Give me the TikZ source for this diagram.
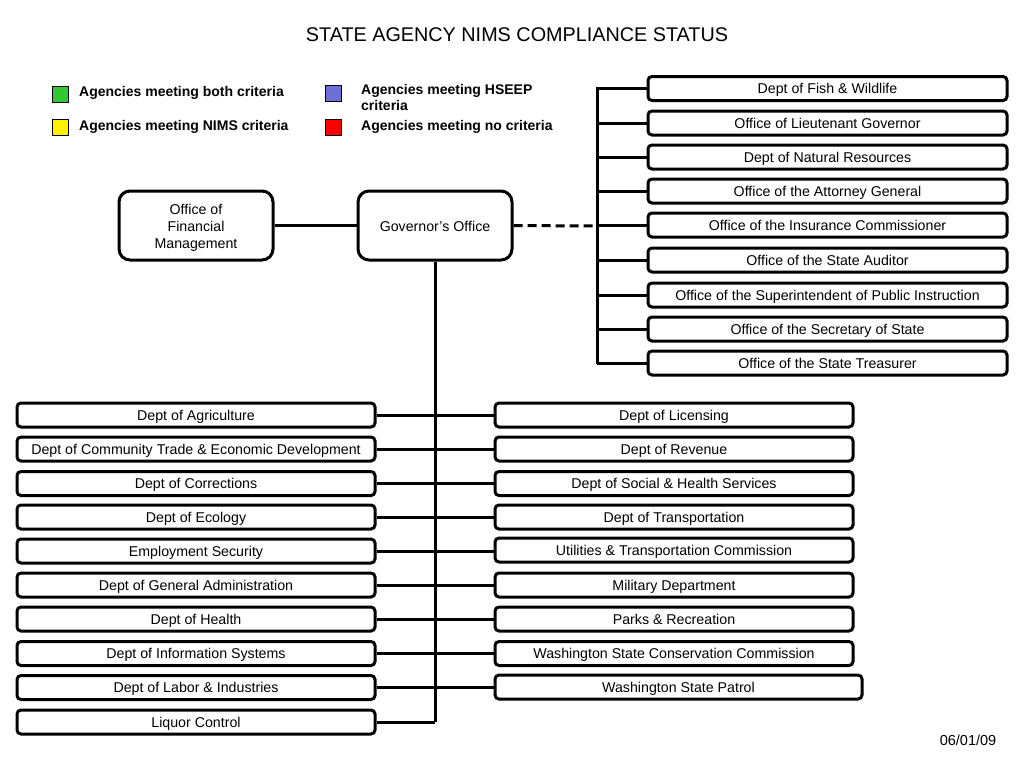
\documentclass[tikz,border=0pt]{standalone}
\usepackage{fontspec}
\setmainfont{Liberation Sans}
\begin{document}
\begin{tikzpicture}[x=1pt,y=-1pt,
  box/.style={draw,line width=3pt,rounded corners=4pt,fill=white,inner sep=0pt,font=\fontsize{14.2}{15}\selectfont,text height=10pt,text depth=0pt},
  rbox/.style={box,minimum width=359pt,minimum height=24pt},
  bigbox/.style={draw,line width=3pt,rounded corners=11pt,fill=white,inner sep=0pt,minimum width=154pt,minimum height=69pt,align=center,font=\fontsize{14.2}{17}\selectfont},
  conn/.style={line width=3pt},
  leg/.style={draw,line width=0.8pt,minimum size=16pt,inner sep=0pt},
  legtxt/.style={anchor=west,inner sep=0pt,font=\bfseries\fontsize{14}{16}\selectfont,align=left}]
\useasboundingbox (0,0) rectangle (1024,768);
\node[inner sep=0pt,font=\fontsize{19.8}{22}\selectfont] (title) at (517,35) {STATE AGENCY NIMS COMPLIANCE STATUS};
% legend
\node[leg,fill={rgb,255:red,50;green,200;blue,50}] (lg) at (60,94.5) {};
\node[leg,fill=yellow] (ly) at (60,127.5) {};
\node[leg,fill={rgb,255:red,110;green,110;blue,215}] (lb) at (333,93.5) {};
\node[leg,fill=red] (lr) at (333,127.5) {};
\node[legtxt] (tg) at (79,92.5) {Agencies meeting both criteria};
\node[legtxt] (ty) at (79,126.5) {Agencies meeting NIMS criteria};
\node[legtxt,anchor=north west] (tb) at (361,84.5) {Agencies meeting HSEEP\\criteria};
\node[legtxt] (tr) at (361,126.5) {Agencies meeting no criteria};
% top boxes
\node[bigbox] (ofm) at (196,225.5) {};
\node[inner sep=0pt,align=center,font=\fontsize{14.2}{17}\selectfont] (ofmt) at (196,227.5) {Office of\\Financial\\Management};
\node[bigbox] (gov) at (435,225.5) {};
\node[inner sep=0pt,font=\fontsize{14.2}{17}\selectfont] (govt) at (435,226.5) {Governor's Office};
% right column
\foreach \n/\y/\t in {r1/88.5/Dept of Fish \& Wildlife, r2/123/Office of Lieutenant Governor, r3/157/Dept of Natural Resources, r4/191/Office of the Attorney General, r5/225/Office of the Insurance Commissioner, r6/260/Office of the State Auditor, r7/295/Office of the Superintendent of Public Instruction, r8/329/Office of the Secretary of State, r9/363/Office of the State Treasurer}
  \node[rbox] (\n) at (827.5,\y) {\t};
\coordinate (bt) at (597,87);
\coordinate (bb) at (597,364);
\coordinate (bm) at (597,226);
\draw[conn] (ofm) -- (gov);
\draw[conn,dash pattern=on 9pt off 5pt] (gov.east) -- (bm);
\draw[conn] (bt) -- (bb);
\foreach \n in {r1,r2,r3,r4,r5,r6,r7,r8,r9}
  \draw[conn] (bt |- \n.west) -- (\n.west);
% lower left column
\foreach \n/\y/\t in {l1/415/Dept of Agriculture, l2/449/Dept of Community Trade \& Economic Development, l3/483.5/Dept of Corrections, l4/517/Dept of Ecology, l5/551/Employment Security, l6/585/Dept of General Administration, l7/619/Dept of Health, l8/653.5/Dept of Information Systems, l9/687.5/Dept of Labor \& Industries, l10/722/Liquor Control}
  \node[rbox,minimum width=358pt] (\n) at (196,\y) {\t};
\foreach \n/\y/\t in {m1/415/Dept of Licensing, m2/449/Dept of Revenue, m3/483.5/Dept of Social \& Health Services, m4/517/Dept of Transportation, m5/550/Utilities \& Transportation Commission, m6/585/Military Department, m7/619/Parks \& Recreation, m8/653.5/Washington State Conservation Commission}
  \node[rbox,minimum width=358pt] (\n) at (674,\y) {\t};
\node[rbox,minimum width=367pt] (m9) at (678.5,687) {Washington State Patrol};
% trunk
\coordinate (tend) at (435,722);
\draw[conn] (gov.south) -- (tend);
\foreach \a/\b in {l1/m1,l2/m2,l3/m3,l4/m4,l5/m5,l6/m6,l7/m7,l8/m8,l9/m9}
  \draw[conn] (\a.east) -- (\a.east -| \b.west);
\draw[conn] (l10.east) -- (tend);
\node[inner sep=0pt,font=\fontsize{14.5}{16}\selectfont] (date) at (968,740) {06/01/09};
\end{tikzpicture}
\end{document}
